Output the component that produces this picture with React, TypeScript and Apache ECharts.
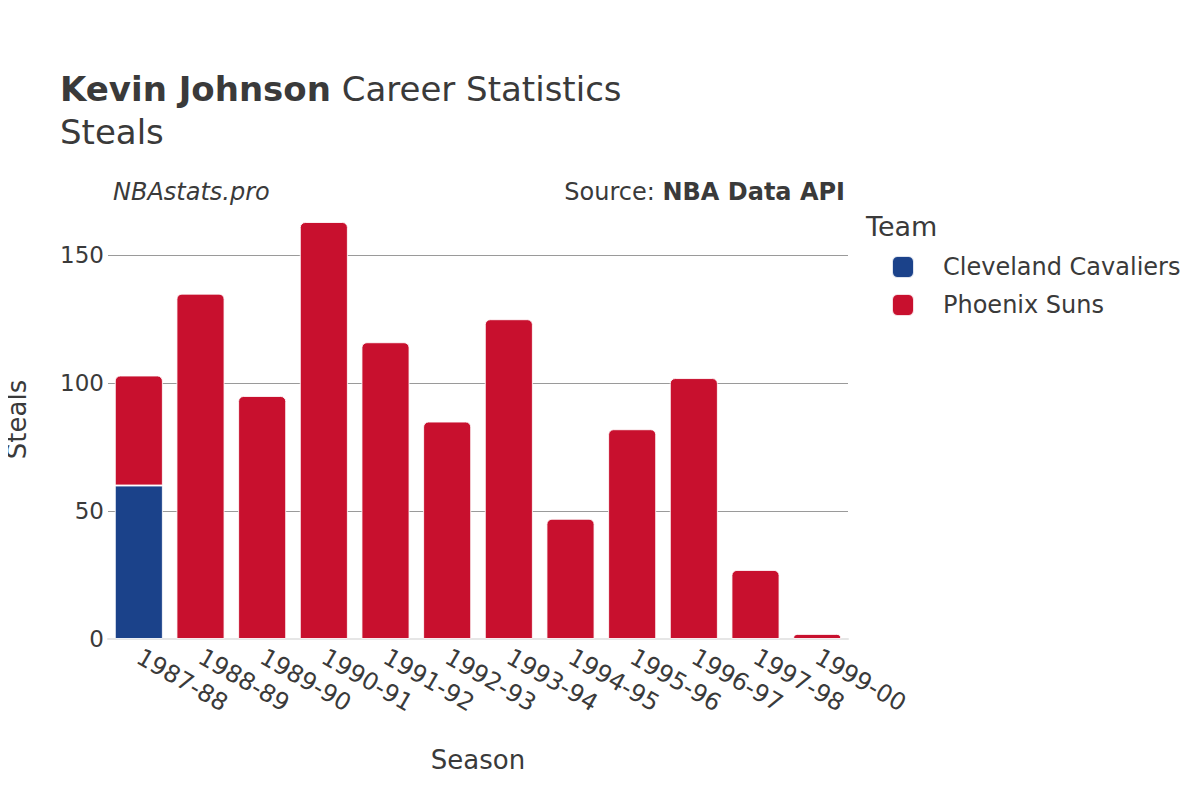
import React, { useEffect, useRef } from "react";
import * as echarts from "echarts";

const seasons = ["1987-88", "1988-89", "1989-90", "1990-91", "1991-92", "1992-93", "1993-94", "1994-95", "1995-96", "1996-97", "1997-98", "1999-00"];
const cleveland = [60, null, null, null, null, null, null, null, null, null, null, null];
const phoenix = [43, 135, 95, 163, 116, 85, 125, 47, 82, 102, 27, 2];
const yTicks = [0, 50, 100, 150];

const FONT = "DejaVu Sans";
const TEXT = "#3a3a3a";

export default function App() {
  const ref = useRef<HTMLDivElement>(null);
  useEffect(() => {
    if (!ref.current) return;
    const chart = echarts.init(ref.current, null, { renderer: "svg" });
    chart.setOption({
      animation: false,
      backgroundColor: "#fff",
      textStyle: { fontFamily: FONT, color: TEXT },
      grid: { left: 108, right: 352, top: 200, bottom: 161, containLabel: false, outerBoundsMode: "none" },
      xAxis: {
        type: "category",
        data: seasons,
        axisTick: { show: false },
        axisLine: { show: true, lineStyle: { color: "#e6e6e6", width: 2 } },
        axisLabel: { rotate: -30, fontSize: 24, color: TEXT, fontFamily: FONT, margin: 16, interval: 0 },
        name: "Season",
        nameLocation: "middle",
        nameGap: 108,
        nameTextStyle: { fontSize: 26, color: TEXT, fontFamily: FONT },
      },
      yAxis: {
        type: "value",
        min: 0,
        max: 171.6,
        interval: 50,
        axisLine: { show: false },
        axisTick: { show: false },
        splitLine: { show: true, showMaxLine: false, showMinLine: false, lineStyle: { color: "#9a9a9a", width: 1 } },
        axisLabel: {
          fontSize: 23,
          color: TEXT,
          fontFamily: FONT,
          margin: 4,
          showMaxLabel: false,
          formatter: (v: number) => (yTicks.includes(v) ? String(v) : ""),
        },
        name: "Steals",
        nameLocation: "middle",
        nameGap: 78,
        nameRotate: 90,
        nameTextStyle: { fontSize: 26, color: TEXT, fontFamily: FONT },
      },
      legend: {
        orient: "vertical",
        left: 891,
        top: 255,
        padding: 0,
        itemWidth: 22,
        itemHeight: 22,
        itemGap: 14,
        icon: "roundRect",
        textStyle: { fontSize: 24, color: TEXT, fontFamily: FONT, padding: [0, 0, 0, 24] },
        data: ["Cleveland Cavaliers", "Phoenix Suns"],
      },
      series: [
        {
          name: "Cleveland Cavaliers",
          type: "bar",
          stack: "total",
          data: cleveland,
          barCategoryGap: "22%",
          itemStyle: { color: "#1b428a", borderColor: "rgba(255,255,255,0.85)", borderWidth: 1 },
        },
        {
          name: "Phoenix Suns",
          type: "bar",
          stack: "total",
          data: phoenix,
          barCategoryGap: "22%",
          itemStyle: { color: "#c8102e", borderColor: "rgba(255,255,255,0.85)", borderWidth: 1, borderRadius: [5, 5, 0, 0] },
        },
      ],
      graphic: [
        {
          type: "text",
          x: 60,
          y: 89,
          style: {
            text: "{b|Kevin Johnson} Career Statistics",
            rich: {
              b: { fontWeight: "bold", fontSize: 34, fontFamily: FONT, fill: TEXT },
            },
            fontSize: 34,
            fontFamily: FONT,
            fill: TEXT,
            verticalAlign: "middle",
          },
        },
        {
          type: "text",
          x: 60,
          y: 132,
          style: { text: "Steals", fontSize: 34, fontFamily: FONT, fill: TEXT, verticalAlign: "middle" },
        },
        {
          type: "text",
          x: 113,
          y: 192,
          style: { text: "NBAstats.pro", fontSize: 24, fontStyle: "italic", fontFamily: FONT, fill: TEXT, verticalAlign: "middle" },
        },
        {
          type: "text",
          x: 845,
          y: 192,
          style: {
            text: "Source: {b|NBA Data API}",
            rich: { b: { fontWeight: "bold", fontSize: 24, fontFamily: FONT, fill: TEXT } },
            fontSize: 24,
            fontFamily: FONT,
            fill: TEXT,
            align: "right",
            verticalAlign: "middle",
          },
        },
        {
          type: "text",
          x: 866,
          y: 226,
          style: { text: "Team", fontSize: 27, fontFamily: FONT, fill: TEXT, verticalAlign: "middle" },
        },
      ],
    });
    return () => chart.dispose();
  }, []);
  return <div ref={ref} style={{ width: 1200, height: 800, margin: -8 }} />;
}
